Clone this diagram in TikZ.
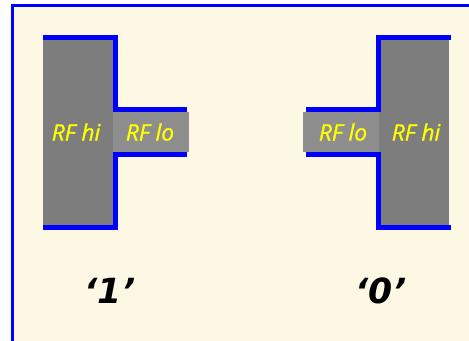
\documentclass[tikz,border=0pt]{standalone}
\usepackage{fontspec}
\setmainfont{DejaVu Sans}
\newfontfamily\rffont{Open Sans}[UprightFont=* Italic,FakeBold=1.2]
\definecolor{wallblue}{RGB}{0,0,255}
\definecolor{cream}{RGB}{252,248,228}
\definecolor{maingray}{RGB}{125,125,125}
\definecolor{stubgray}{RGB}{142,142,142}
\definecolor{rfyellow}{RGB}{255,255,0}
\begin{document}
\begin{tikzpicture}[x=0.75pt,y=-0.75pt,
  bluewall/.style={draw=wallblue,line width=3.75pt,line cap=butt,line join=miter},
  mainfill/.style={fill=maingray,draw=none},
  stubfill/.style={fill=stubgray,draw=none},
  rflabel/.style={text=rfyellow,font=\rffont\fontsize{17}{20}\selectfont,inner sep=0pt},
  bitlabel/.style={text=black,font=\fontsize{26}{30}\selectfont\bfseries\itshape,inner sep=0pt}]
\useasboundingbox (0,0) rectangle (469,341);
\fill[white] (0,0) rectangle (469,341);
\fill[cream] (12,5) rectangle (469,341);
\draw[wallblue,line width=1.6pt] (12.5,341) -- (12.5,5.5) -- (469,5.5);
% left shape
\fill[mainfill] (43,38) rectangle (114,227);
\fill[stubfill] (113,112) rectangle (189,152);
\draw[bluewall] (43,37.5) -- (115.5,37.5) -- (115.5,109.5) -- (187,109.5);
\draw[bluewall] (187,154.5) -- (115.5,154.5) -- (115.5,227.5) -- (43,227.5);
\node[rflabel] (lhi) at (76,132) {RF hi};
\node[rflabel] (llo) at (150,132) {RF lo};
\node[bitlabel] (one) at (110,291) {‘1'};
% right shape
\fill[mainfill] (377,38) rectangle (449,227);
\fill[stubfill] (303,112) rectangle (379,152);
\draw[bluewall] (451,37.5) -- (378,37.5) -- (378,109.5) -- (306,109.5);
\draw[bluewall] (306,154.5) -- (378,154.5) -- (378,227.5) -- (451,227.5);
\node[rflabel] (rlo) at (343,132) {RF lo};
\node[rflabel] (rhi) at (416,132) {RF hi};
\node[bitlabel] (zero) at (381,291) {‘0'};
\end{tikzpicture}
\end{document}
